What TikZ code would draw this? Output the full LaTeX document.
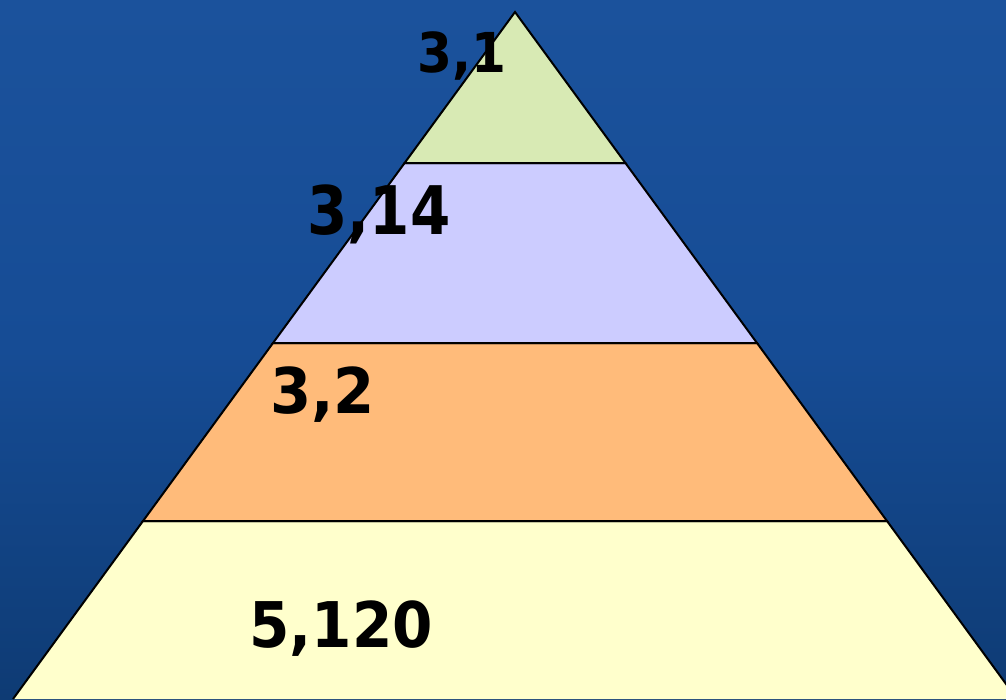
\documentclass[tikz,border=0pt]{standalone}
\usepackage{fontspec}
\newfontfamily\labelfont{DejaVu Sans}[Scale=1]
\begin{document}
\begin{tikzpicture}[x=1pt,y=-1pt,
  layer/.style={draw=black,line width=2pt,line join=miter},
  lbl/.style={anchor=base,inner sep=0pt,font=\labelfont\bfseries,xscale=0.94}]
\definecolor{bgtop}{HTML}{1B529C}
\definecolor{bgmid}{HTML}{164C95}
\definecolor{bgbot}{HTML}{0E3B74}
\definecolor{cgreen}{HTML}{D8EAB4}
\definecolor{clav}{HTML}{CCCCFF}
\definecolor{cpeach}{HTML}{FFBB7A}
\definecolor{ccream}{HTML}{FFFFCC}
\useasboundingbox (0,0) rectangle (1006,699);
\clip (0,0) rectangle (1006,699);
\shade[top color=bgtop,bottom color=bgbot,middle color=bgmid] (0,0) rectangle (1006,699);
% coordinates
\coordinate (apex) at (515,12);
\coordinate (l1) at (404.6,163); \coordinate (r1) at (625.4,163);
\coordinate (l2) at (273,343);   \coordinate (r2) at (757,343);
\coordinate (l3) at (143,521);   \coordinate (r3) at (887,521);
\coordinate (l4) at (13,699);    \coordinate (r4) at (1017,699);
\fill[ccream] (l3) -- (r3) -- (r4) -- (l4) -- cycle;
\draw[layer] (l4) -- (l3) -- (r3) -- (r4);
\filldraw[layer,fill=cpeach] (l2) -- (r2) -- (r3) -- (l3) -- cycle;
\filldraw[layer,fill=clav] (l1) -- (r1) -- (r2) -- (l2) -- cycle;
\filldraw[layer,fill=cgreen] (apex) -- (r1) -- (l1) -- cycle;
\node[lbl,xscale=0.97,font=\labelfont\bfseries\fontsize{55}{55}\selectfont] (t1) at (462,72) {3,1};
\node[lbl,xscale=0.92,font=\labelfont\bfseries\fontsize{67}{67}\selectfont] (t2) at (379,234) {3,14};
\node[lbl,font=\labelfont\bfseries\fontsize{63}{63}\selectfont] (t3) at (322.5,413) {3,2};
\node[lbl,xscale=0.98,font=\labelfont\bfseries\fontsize{63}{63}\selectfont] (t4) at (341,647) {5,120};
\end{tikzpicture}
\end{document}
